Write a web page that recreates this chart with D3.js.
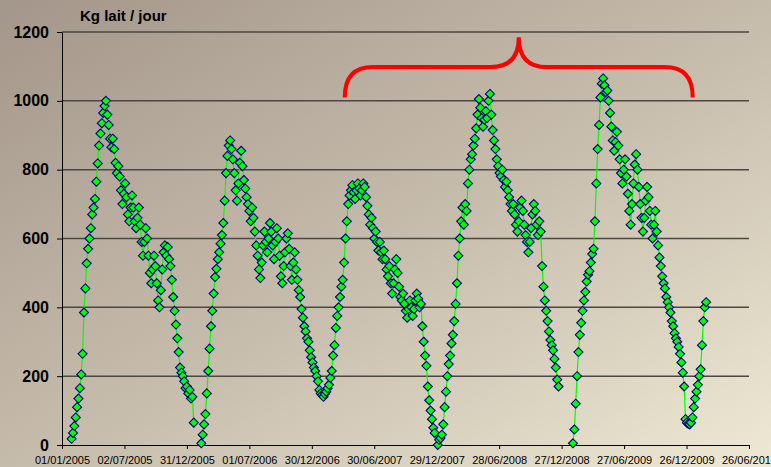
<!DOCTYPE html>
<html><head><meta charset="utf-8">
<script src="https://cdn.jsdelivr.net/npm/d3@7"></script>
<style>body{margin:0;background:#fff;} svg{display:block;}</style>
</head><body>
<svg id="chart" width="771" height="467"></svg>
<script>
// ---- data ----
const yTitle = "Kg lait / jour";
const yTicks = [0, 200, 400, 600, 800, 1000, 1200];
const xTickLabels = ["01/01/2005","02/07/2005","31/12/2005","01/07/2006","30/12/2006","30/06/2007",
  "29/12/2007","28/06/2008","27/12/2008","27/06/2009","26/12/2009","26/06/2010"];
const STEP_DAYS = 4;
const seasonStarts = ["29/01/2005", "11/02/2006", "01/01/2008", "29/01/2009"];
const kg2005 = [18,35,55,80,110,135,165,205,265,385,455,528,570,600,630,670,690,715,765,818,870,905,935,965,985,1000,
  960,930,890,865,890,860,820,790,810,780,740,700,730,760,720,670,650,690,725,690,650,630,660,690,640,590,550,590,630,600,
  550,500,470,510,550,520,470,420,400,450,510,560,580,550,575,540,520,480,430,390,350,310,270,225,210,200,185,165,170,150,
  160,135,140,65];
const kg2006 = [5,30,60,90,150,215,280,345,390,440,488,512,540,560,585,610,645,710,790,840,870,885,
  860,830,790,740,710,760,820,855,810,770,745,720,700,680,650,690,660,620,580,550,510,485,530,580,620,590,560,600,645,620,
  580,540,590,630,600,550,490,470,520,560,600,615,570,520,480,530,560,510,480,450,430,395,370,345,330,310,300,275,255,240,
  225,215,200,185,160,150,145,140,148,155,165,175,195,215,260,290,340,375,400,430,460,480,530,600,650,
  700,725,740,755,735,715,740,760,745,725,740,760,750,720,695,670,640,660,630,600,620,590,565,590,560,540,565,540,510,490,
  520,470,440,470,510,540,500,460,430,420,440,410,390,370,395,420,400,375,395,420,440,425,400,410,
  345,300,260,230,170,130,100,75,50,35];
const kg2008 = [0,15,20,30,60,110,155,200,235,260,295,320,360,410,470,550,600,650,690,640,700,680,760,800,830,845,870,890,
  920,960,1005,980,950,925,945,970,950,1000,1020,960,915,885,860,830,810,790,780,800,770,750,765,740,720,700,680,700,670,
  640,620,650,690,710,680,640,610,590,560,590,630,670,700,680,640,610,650,620,520,460,420,390,360,330,305,290,275,250,225,
  190,170];
const kg2009 = [5,45,120,200,270,320,355,390,420,445,475,495,505,530,555,570,650,760,860,930,1010,1050,
  1065,1045,1025,1030,1000,965,925,885,855,880,910,870,830,790,760,800,830,780,730,680,640,700,760,815,845,800,750,700,
  660,620,660,710,750,720,680,640,600,640,680,620,580,545,
  520,490,470,455,430,415,400,385,360,345,325,310,300,285,265,240,210,170,75,65,62,60,65,
  80,110,135,155,175,200,220,290,360,400,415];
const seasonValues = [kg2005, kg2006, kg2008, kg2009];
// bracket annotation (dates & levels)
const braceDates = ["05/04/2007", "24/08/2008", "13/01/2010"];
const braceLevels = [1010, 1098, 1185];

// ---- drawing ----
const W = 771, H = 467;
const svg = d3.select("#chart");
const defs = svg.append("defs");
const grad = defs.append("linearGradient").attr("id","bg").attr("x1",0).attr("y1",0).attr("x2",1).attr("y2",1);
grad.append("stop").attr("offset","0%").attr("stop-color","#a3968a");
grad.append("stop").attr("offset","55%").attr("stop-color","#c9bfae");
grad.append("stop").attr("offset","100%").attr("stop-color","#eee9d4");
svg.append("rect").attr("width",W).attr("height",H).attr("fill","url(#bg)");

const parse = d3.timeParse("%d/%m/%Y");
const xDates = xTickLabels.map(parse);
const x = d3.scaleTime().domain([xDates[0], xDates[xDates.length-1]]).range([62, 749]);
const y = d3.scaleLinear().domain([0, 1200]).range([445, 32]);

// gridlines
svg.append("g").selectAll("line").data(yTicks.filter(v => v > 0)).join("line")
  .attr("x1", 62).attr("x2", 749)
  .attr("y1", d => y(d)).attr("y2", d => y(d))
  .attr("stroke", "#4a4744").attr("stroke-width", 1.5);

// axes
const font = "'Liberation Sans', Arial, sans-serif";
const gy = svg.append("g").attr("transform","translate(62,0)")
  .call(d3.axisLeft(y).tickValues(yTicks).tickSize(5).tickSizeOuter(0).tickPadding(8).tickFormat(d3.format("d")));
gy.selectAll("text").attr("font-family", font).attr("font-weight","bold").attr("font-size","16px").attr("fill","#000");
gy.selectAll("line").attr("stroke","#000");
gy.select(".domain").attr("stroke","#000");

const gx = svg.append("g").attr("transform","translate(0,445)")
  .call(d3.axisBottom(x).tickValues(xDates).tickFormat((d,i) => xTickLabels[i]).tickSize(4).tickSizeOuter(0).tickPadding(7));
gx.selectAll("text").attr("font-family", font).attr("font-size","11px").attr("fill","#000");
gx.selectAll("line").attr("stroke","#000");
gx.select(".domain").attr("stroke","#000");

svg.append("text").attr("x", 80).attr("y", 21).text(yTitle)
  .attr("font-family", font).attr("font-weight","bold").attr("font-size","15px").attr("fill","#000");

// series
const seasons = seasonValues.map((vals, s) => {
  const start = parse(seasonStarts[s]);
  return vals.map((v, i) => ({ date: d3.timeDay.offset(start, i * STEP_DAYS), v }));
});
const line = d3.line().x(d => x(d.date)).y(d => y(d.v));
svg.append("g").selectAll("path").data(seasons).join("path")
  .attr("d", line).attr("fill","none").attr("stroke","#00ff00").attr("stroke-width",1.2);
const diamond = "M0,-4.5L4.5,0L0,4.5L-4.5,0Z";
svg.append("g").selectAll("path").data(seasons.flat()).join("path")
  .attr("d", diamond)
  .attr("transform", d => `translate(${x(d.date)},${y(d.v)})`)
  .attr("fill","#00ff00").attr("stroke","#000080").attr("stroke-width",1.1);

// red bracket
const [xl, xm, xr] = braceDates.map(d => x(parse(d)));
const [yb, yh, yt] = braceLevels.map(v => y(v));
const r = 28;
const p = d3.path();
p.moveTo(xl, yb);
p.quadraticCurveTo(xl, yh, xl + r, yh);
p.lineTo(xm - r, yh);
p.quadraticCurveTo(xm, yh, xm, yt);
p.quadraticCurveTo(xm, yh, xm + r, yh);
p.lineTo(xr - r, yh);
p.quadraticCurveTo(xr, yh, xr, yb);
svg.append("path").attr("d", p.toString()).attr("fill","none").attr("stroke","#ff0000").attr("stroke-width",4);
</script>
</body></html>
